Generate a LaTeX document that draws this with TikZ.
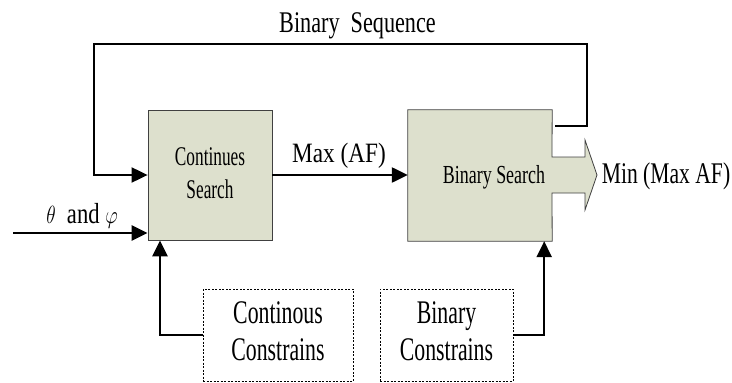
\documentclass[tikz,border=0pt]{standalone}
\usepackage{fontspec}
\setmainfont{Liberation Serif}
\usetikzlibrary{arrows.meta}
\definecolor{blkfill}{RGB}{221,224,205}
\newcommand{\sq}[2]{\scalebox{#1}[1]{#2}}

\begin{document}
\begin{tikzpicture}[x=1pt, y=-1pt, >={Triangle[length=16pt,width=15pt]},
  blk/.style={draw=black!75, fill=blkfill, line width=0.8pt, inner sep=0pt},
  cbox/.style={draw, dash pattern=on 2pt off 1.5pt, line width=0.6pt,
    minimum width=#1, minimum height=92pt, inner sep=0pt},
  lbl/.style={inner sep=0pt, anchor=base},
  wire/.style={line width=2.4pt}]
  \useasboundingbox (0,0) rectangle (732,383);
  \node[blk, minimum width=124pt, minimum height=130pt,
    font=\fontsize{27}{33}\selectfont] (cs) at (210,175)
    {\sq{0.64}{\begin{tabular}{@{}c@{}}Continues\\Search\end{tabular}}};
  \node[minimum width=144pt, minimum height=131pt, inner sep=0pt] (bs) at (480,175.5) {};
  \filldraw[blk] (bs.north west) -- (bs.north east) -- (552,157) -- (585,157)
    -- (585,140) -- (597,175) -- (585,210) -- (585,193) -- (552,193)
    -- (bs.south east) -- (bs.south west) -- cycle;
  \node[lbl, font=\fontsize{26}{30}\selectfont] (bst) at (494,183) {\sq{0.69}{Binary\ Search}};
  \node[cbox=150pt, font=\fontsize{33}{37}\selectfont] (cc) at (278,335)
    {\sq{0.66}{\begin{tabular}{@{}c@{}}Continous\\Constrains\end{tabular}}};
  \node[cbox=133pt, font=\fontsize{33}{37}\selectfont] (bc) at (446.5,335)
    {\sq{0.66}{\begin{tabular}{@{}c@{}}Binary\\Constrains\end{tabular}}};
  \node[lbl, font=\fontsize{30}{36}\selectfont] (seq) at (357.5,32) {\sq{0.74}{Binary\ \ Sequence}};
  \node[lbl, font=\fontsize{28}{34}\selectfont] (maxaf) at (339,162) {\sq{0.83}{Max (AF)}};
  \node[lbl, font=\fontsize{29}{34}\selectfont] (ang) at (82,223) {\sq{0.78}{$\theta$\ \ and $\varphi$}};
  \node[lbl, font=\fontsize{30}{36}\selectfont] (out) at (666,183) {\sq{0.72}{Min (Max AF)}};
  \coordinate (fb) at (555,126);
  \coordinate (in) at (13,233);
  \draw[line width=2pt, ->] (fb) -- (587,126) -- (587,44) -- (94,44) -- (94,175) -- (cs.west);
  \draw[wire, ->] (cs.east) -- (cs.east -| bs.west);
  \draw[wire, ->] (in) -- (in -| cs.west);
  \draw[wire, ->] (cc.west) -| ([xshift=-50pt]cs.south);
  \draw[wire, ->] (bc.east) -| ([xshift=-8pt]bs.south east);
\end{tikzpicture}
\end{document}
